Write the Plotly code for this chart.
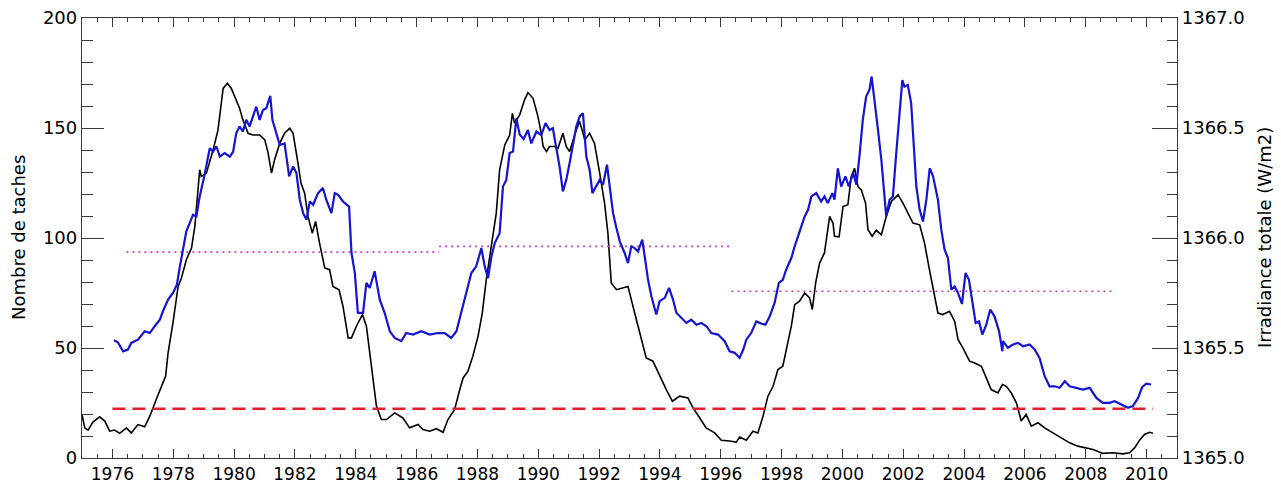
import plotly.graph_objects as go

# ---- Sunspot number (smoothed), left axis ----
ssn_years = [1975.00, 1975.09, 1975.20, 1975.36, 1975.58, 1975.75, 1975.91, 1976.07, 1976.24, 1976.46,
             1976.62, 1976.84, 1977.06, 1977.23, 1977.44, 1977.75, 1977.83, 1977.99, 1978.16, 1978.27,
             1978.43, 1978.60, 1978.71, 1978.87, 1978.92, 1979.09, 1979.31, 1979.47, 1979.64, 1979.78,
             1979.91, 1980.07, 1980.18, 1980.29, 1980.46, 1980.62, 1980.84, 1981.01, 1981.12, 1981.23,
             1981.33, 1981.50, 1981.66, 1981.83, 1981.94, 1982.10, 1982.20, 1982.32, 1982.43, 1982.57,
             1982.68, 1982.81, 1982.98, 1983.14, 1983.25, 1983.45, 1983.58, 1983.75, 1983.86, 1984.02,
             1984.22, 1984.35, 1984.51, 1984.68, 1984.84, 1985.01, 1985.28, 1985.55, 1985.77, 1986.05,
             1986.21, 1986.43, 1986.65, 1986.87, 1987.03, 1987.25, 1987.42, 1987.53, 1987.69, 1987.85,
             1988.02, 1988.16, 1988.29, 1988.46, 1988.62, 1988.73, 1988.90, 1989.06, 1989.15, 1989.22,
             1989.39, 1989.55, 1989.66, 1989.83, 1989.99, 1990.10, 1990.16, 1990.27, 1990.37, 1990.54,
             1990.65, 1990.81, 1990.92, 1991.03, 1991.14, 1991.25, 1991.36, 1991.53, 1991.69, 1991.85,
             1992.02, 1992.18, 1992.29, 1992.40, 1992.57, 1992.79, 1992.95, 1993.17, 1993.33, 1993.55,
             1993.77, 1993.99, 1994.21, 1994.41, 1994.65, 1994.92, 1995.09, 1995.31, 1995.52, 1995.80,
             1996.02, 1996.29, 1996.51, 1996.62, 1996.84, 1997.06, 1997.22, 1997.39, 1997.55, 1997.72,
             1997.88, 1998.04, 1998.21, 1998.32, 1998.43, 1998.59, 1998.76, 1998.92, 1999.01, 1999.12,
             1999.25, 1999.41, 1999.58, 1999.69, 1999.74, 1999.89, 2000.02, 2000.18, 2000.29, 2000.40,
             2000.51, 2000.62, 2000.76, 2000.84, 2000.98, 2001.11, 2001.28, 2001.44, 2001.61, 2001.83,
             2001.99, 2002.15, 2002.32, 2002.54, 2002.70, 2002.84, 2002.98, 2003.14, 2003.30, 2003.52,
             2003.69, 2003.80, 2003.96, 2004.18, 2004.35, 2004.57, 2004.73, 2004.89, 2005.11, 2005.26,
             2005.39, 2005.55, 2005.72, 2005.88, 2006.04, 2006.21, 2006.43, 2006.65, 2006.92, 2007.20,
             2007.47, 2007.74, 2008.02, 2008.24, 2008.56, 2008.89, 2009.22, 2009.44, 2009.61, 2009.77,
             2009.93, 2010.10, 2010.21]
ssn_values = [19.8, 13.7, 12.7, 16.3, 18.7, 16.8, 12.2, 12.7, 11.2, 13.7,
              11.4, 15.2, 14.2, 19.0, 26.6, 37.2, 47.8, 61.4, 78.0, 81.8,
              90.1, 95.4, 105.3, 131.0, 128.0, 129.5, 140.0, 149.0, 168.0, 170.3,
              168.0, 162.8, 159.0, 153.7, 147.6, 146.8, 146.8, 144.6, 138.6, 129.5,
              135.5, 143.0, 147.6, 149.9, 147.6, 134.0, 125.0, 120.4, 109.8, 102.2,
              107.5, 97.7, 86.4, 85.6, 78.0, 76.5, 69.0, 54.6, 54.6, 59.9,
              65.2, 59.9, 41.7, 23.6, 17.5, 17.5, 20.5, 18.2, 13.7, 15.2,
              12.9, 12.2, 13.3, 11.7, 17.5, 22.0, 31.1, 36.4, 39.5, 46.3,
              55.3, 65.9, 81.0, 96.2, 111.3, 131.0, 142.3, 146.8, 156.7, 152.2,
              156.0, 162.8, 166.1, 163.5, 155.2, 147.6, 141.6, 139.3, 141.6, 141.6,
              140.8, 147.6, 141.6, 139.3, 144.6, 149.1, 153.0, 144.6, 147.6, 143.0,
              129.5, 115.9, 102.2, 79.6, 76.5, 77.3, 78.0, 65.9, 56.8, 45.5,
              44.0, 37.2, 31.1, 25.8, 28.1, 27.3, 22.8, 18.2, 13.7, 11.4,
              8.1, 7.7, 7.2, 9.5, 8.1, 12.2, 11.4, 19.0, 28.1, 32.6,
              40.2, 41.7, 53.1, 59.9, 69.7, 71.3, 75.0, 72.8, 67.5, 79.6,
              88.6, 93.2, 109.8, 106.8, 100.8, 100.5, 114.3, 115.1, 128.0, 131.7,
              123.4, 121.9, 115.9, 103.8, 100.8, 103.5, 101.5, 109.8, 116.6, 119.6,
              115.9, 111.3, 106.8, 106.0, 97.7, 87.1, 76.5, 65.9, 65.2, 66.7,
              62.2, 53.9, 50.1, 44.0, 43.2, 41.7, 36.4, 31.1, 29.6, 33.4,
              32.6, 29.6, 25.1, 16.8, 19.8, 14.5, 16.0, 13.7, 11.4, 9.2,
              6.9, 5.4, 4.7, 3.9, 2.1, 2.4, 1.9, 2.4, 4.7, 8.1,
              10.7, 11.7, 11.2]

# ---- Total solar irradiance (W/m2), right axis ----
tsi_years = [1976.05, 1976.18, 1976.35, 1976.51, 1976.62, 1976.84, 1977.06, 1977.23, 1977.39, 1977.56,
             1977.66, 1977.83, 1977.99, 1978.12, 1978.21, 1978.32, 1978.43, 1978.54, 1978.65, 1978.76,
             1978.87, 1979.03, 1979.20, 1979.31, 1979.42, 1979.53, 1979.69, 1979.86, 1979.97, 1980.07,
             1980.18, 1980.29, 1980.40, 1980.51, 1980.62, 1980.73, 1980.84, 1980.95, 1981.06, 1981.19,
             1981.26, 1981.39, 1981.50, 1981.66, 1981.81, 1981.94, 1982.05, 1982.16, 1982.27, 1982.38,
             1982.49, 1982.60, 1982.76, 1982.92, 1983.03, 1983.20, 1983.31, 1983.42, 1983.58, 1983.78,
             1983.86, 1983.97, 1984.07, 1984.24, 1984.35, 1984.46, 1984.62, 1984.79, 1984.95, 1985.12,
             1985.28, 1985.50, 1985.66, 1985.88, 1986.16, 1986.43, 1986.70, 1986.92, 1987.14, 1987.31,
             1987.47, 1987.64, 1987.80, 1987.96, 1988.13, 1988.24, 1988.35, 1988.46, 1988.57, 1988.73,
             1988.84, 1988.95, 1989.06, 1989.17, 1989.28, 1989.39, 1989.52, 1989.66, 1989.77, 1989.94,
             1990.10, 1990.24, 1990.37, 1990.48, 1990.59, 1990.70, 1990.81, 1990.92, 1991.03, 1991.14,
             1991.25, 1991.36, 1991.47, 1991.58, 1991.69, 1991.78, 1991.91, 1992.02, 1992.13, 1992.26,
             1992.35, 1992.46, 1992.57, 1992.68, 1992.84, 1992.95, 1993.06, 1993.17, 1993.28, 1993.42,
             1993.50, 1993.61, 1993.72, 1993.88, 1993.99, 1994.16, 1994.30, 1994.43, 1994.54, 1994.70,
             1994.87, 1995.03, 1995.20, 1995.36, 1995.53, 1995.69, 1995.91, 1996.13, 1996.29, 1996.46,
             1996.62, 1996.74, 1996.84, 1997.00, 1997.17, 1997.33, 1997.47, 1997.61, 1997.77, 1997.91,
             1998.04, 1998.15, 1998.32, 1998.43, 1998.54, 1998.65, 1998.76, 1998.87, 1998.98, 1999.14,
             1999.30, 1999.41, 1999.52, 1999.67, 1999.74, 1999.85, 1999.96, 2000.10, 2000.21, 2000.35,
             2000.46, 2000.57, 2000.67, 2000.78, 2000.89, 2000.96, 2001.06, 2001.17, 2001.28, 2001.37,
             2001.44, 2001.55, 2001.66, 2001.77, 2001.88, 2001.97, 2002.04, 2002.15, 2002.26, 2002.34,
             2002.43, 2002.54, 2002.65, 2002.76, 2002.87, 2002.98, 2003.14, 2003.25, 2003.36, 2003.47,
             2003.58, 2003.69, 2003.80, 2003.93, 2004.05, 2004.16, 2004.27, 2004.38, 2004.49, 2004.60,
             2004.73, 2004.86, 2005.00, 2005.15, 2005.26, 2005.28, 2005.44, 2005.61, 2005.77, 2005.94,
             2006.15, 2006.32, 2006.48, 2006.65, 2006.81, 2006.98, 2007.14, 2007.31, 2007.47, 2007.69,
             2007.91, 2008.13, 2008.35, 2008.56, 2008.78, 2008.95, 2009.17, 2009.39, 2009.55, 2009.72,
             2009.86, 2009.99, 2010.15]
tsi_values = [1365.535, 1365.526, 1365.485, 1365.493, 1365.523, 1365.538, 1365.576, 1365.568, 1365.599, 1365.629,
              1365.667, 1365.720, 1365.750, 1365.788, 1365.864, 1365.947, 1366.030, 1366.068, 1366.106, 1366.098,
              1366.189, 1366.287, 1366.408, 1366.393, 1366.416, 1366.370, 1366.386, 1366.370, 1366.393, 1366.476,
              1366.507, 1366.484, 1366.537, 1366.507, 1366.552, 1366.597, 1366.537, 1366.582, 1366.590, 1366.646,
              1366.537, 1366.476, 1366.423, 1366.430, 1366.280, 1366.325, 1366.295, 1366.174, 1366.113, 1366.083,
              1366.166, 1366.151, 1366.204, 1366.227, 1366.174, 1366.113, 1366.204, 1366.196, 1366.166, 1366.143,
              1365.932, 1365.841, 1365.660, 1365.660, 1365.796, 1365.773, 1365.849, 1365.720, 1365.660, 1365.576,
              1365.546, 1365.531, 1365.568, 1365.561, 1365.576, 1365.561, 1365.568, 1365.568, 1365.546, 1365.576,
              1365.660, 1365.750, 1365.841, 1365.871, 1365.954, 1365.871, 1365.818, 1365.916, 1365.977, 1366.022,
              1366.234, 1366.264, 1366.386, 1366.393, 1366.544, 1366.470, 1366.450, 1366.491, 1366.430, 1366.484,
              1366.468, 1366.522, 1366.491, 1366.499, 1366.416, 1366.325, 1366.212, 1366.264, 1366.340, 1366.416,
              1366.507, 1366.552, 1366.567, 1366.370, 1366.310, 1366.204, 1366.234, 1366.264, 1366.242, 1366.333,
              1366.234, 1366.113, 1366.045, 1365.985, 1365.932, 1365.886, 1365.962, 1365.954, 1365.939, 1365.993,
              1365.916, 1365.810, 1365.735, 1365.652, 1365.713, 1365.728, 1365.773, 1365.720, 1365.660, 1365.637,
              1365.614, 1365.629, 1365.606, 1365.614, 1365.599, 1365.568, 1365.561, 1365.531, 1365.485, 1365.478,
              1365.455, 1365.493, 1365.538, 1365.568, 1365.621, 1365.611, 1365.606, 1365.644, 1365.705, 1365.796,
              1365.810, 1365.856, 1365.909, 1365.962, 1366.008, 1366.045, 1366.098, 1366.128, 1366.189, 1366.204,
              1366.166, 1366.189, 1366.159, 1366.204, 1366.174, 1366.317, 1366.234, 1366.280, 1366.234, 1366.295,
              1366.242, 1366.386, 1366.537, 1366.643, 1366.674, 1366.734, 1366.628, 1366.491, 1366.355, 1366.204,
              1366.098, 1366.174, 1366.189, 1366.386, 1366.567, 1366.718, 1366.688, 1366.696, 1366.613, 1366.416,
              1366.234, 1366.128, 1366.075, 1366.174, 1366.317, 1366.280, 1366.174, 1366.038, 1365.947, 1365.909,
              1365.765, 1365.780, 1365.750, 1365.700, 1365.841, 1365.810, 1365.705, 1365.614, 1365.621, 1365.561,
              1365.606, 1365.675, 1365.644, 1365.576, 1365.485, 1365.531, 1365.501, 1365.516, 1365.523, 1365.508,
              1365.516, 1365.493, 1365.455, 1365.372, 1365.326, 1365.326, 1365.319, 1365.349, 1365.326, 1365.319,
              1365.311, 1365.319, 1365.273, 1365.251, 1365.251, 1365.258, 1365.243, 1365.228, 1365.236, 1365.273,
              1365.323, 1365.338, 1365.334]

# ---- Cycle-mean irradiance (dotted) and reference level (dashed) ----
cycle_starts = [1976.46, 1986.74, 1996.35]
cycle_ends = [1986.74, 1996.35, 2008.95]
cycle_mean_tsi = [1365.936, 1365.962, 1365.758]
ref_start, ref_end = 1976.0, 2010.21
ref_level_tsi = 1365.224

x_tickvals = list(range(1976, 2011, 2))
x_ticktext = [str(v) for v in x_tickvals]

FONT = "DejaVu Sans"
AXIS_COLOR = "#3a3a3a"

fig = go.Figure()

fig.add_trace(go.Scatter(x=[ref_start, ref_end], y=[ref_level_tsi, ref_level_tsi], yaxis="y2",
                         mode="lines", line=dict(color="#e0202c", width=2.5, dash="13px,7px"),
                         hoverinfo="skip", showlegend=False))
for s, e, m in zip(cycle_starts, cycle_ends, cycle_mean_tsi):
    fig.add_trace(go.Scatter(x=[s, e], y=[m, m], yaxis="y2", mode="lines",
                             line=dict(color="#cc3ec0", width=1.6, dash="2px,4px"),
                             hoverinfo="skip", showlegend=False))

fig.add_trace(go.Scatter(x=ssn_years, y=ssn_values, mode="lines",
                         line=dict(color="black", width=1.6), name="Nombre de taches",
                         showlegend=False))
fig.add_trace(go.Scatter(x=tsi_years, y=tsi_values, yaxis="y2", mode="lines",
                         line=dict(color="#1414d2", width=2.2), name="Irradiance totale",
                         showlegend=False))

fig.update_layout(
    template="none",
    width=1281, height=487,
    margin=dict(l=82, r=104, t=18, b=29, autoexpand=False),
    paper_bgcolor="white", plot_bgcolor="white",
    font=dict(family=FONT, size=17, color="black"),
    xaxis=dict(range=[1975, 2011], tickmode="array", tickvals=x_tickvals, ticktext=x_ticktext,
               ticks="inside", ticklen=9, tickwidth=1.2, tickcolor=AXIS_COLOR,
               minor=dict(dtick=0.5, tick0=1975, ticks="inside", ticklen=4, tickcolor=AXIS_COLOR, tickwidth=1),
               showline=True, linecolor=AXIS_COLOR, linewidth=1.3, mirror="ticks", automargin=False,
               showgrid=False, zeroline=False, tickfont=dict(size=17, family=FONT)),
    yaxis=dict(range=[0, 200], tickmode="linear", tick0=0, dtick=50,
               ticks="inside", ticklen=22, tickwidth=1.2, tickcolor=AXIS_COLOR,
               minor=dict(dtick=10, ticks="inside", ticklen=11, tickcolor=AXIS_COLOR, tickwidth=1),
               showline=True, linecolor=AXIS_COLOR, linewidth=1.3, automargin=False,
               showgrid=False, zeroline=False, tickfont=dict(size=18, family=FONT)),
    yaxis2=dict(range=[1365, 1367], overlaying="y", side="right", tickmode="linear",
                tick0=1365, dtick=0.5, tickformat=".1f",
                ticks="inside", ticklen=25, tickwidth=1.2, tickcolor=AXIS_COLOR,
                minor=dict(dtick=0.1, ticks="inside", ticklen=10, tickcolor=AXIS_COLOR, tickwidth=1),
                showline=True, linecolor=AXIS_COLOR, linewidth=1.3, automargin=False,
                showgrid=False, zeroline=False, tickfont=dict(size=18, family=FONT)),
    annotations=[
        dict(text="Nombre de taches", xref="paper", yref="paper", x=(18 - 82) / 1095, y=0.5,
             xanchor="center", yanchor="middle", textangle=-90, showarrow=False,
             font=dict(size=18, family=FONT, color="black")),
        dict(text="Irradiance totale (W/m2)", xref="paper", yref="paper", x=(1264 - 82) / 1095, y=0.5,
             xanchor="center", yanchor="middle", textangle=-90, showarrow=False,
             font=dict(size=18, family=FONT, color="black")),
    ],
)

fig.write_html("out.html", config={"displayModeBar": False},
               post_script="document.body.style.margin='0px'; document.body.style.padding='0px';")
